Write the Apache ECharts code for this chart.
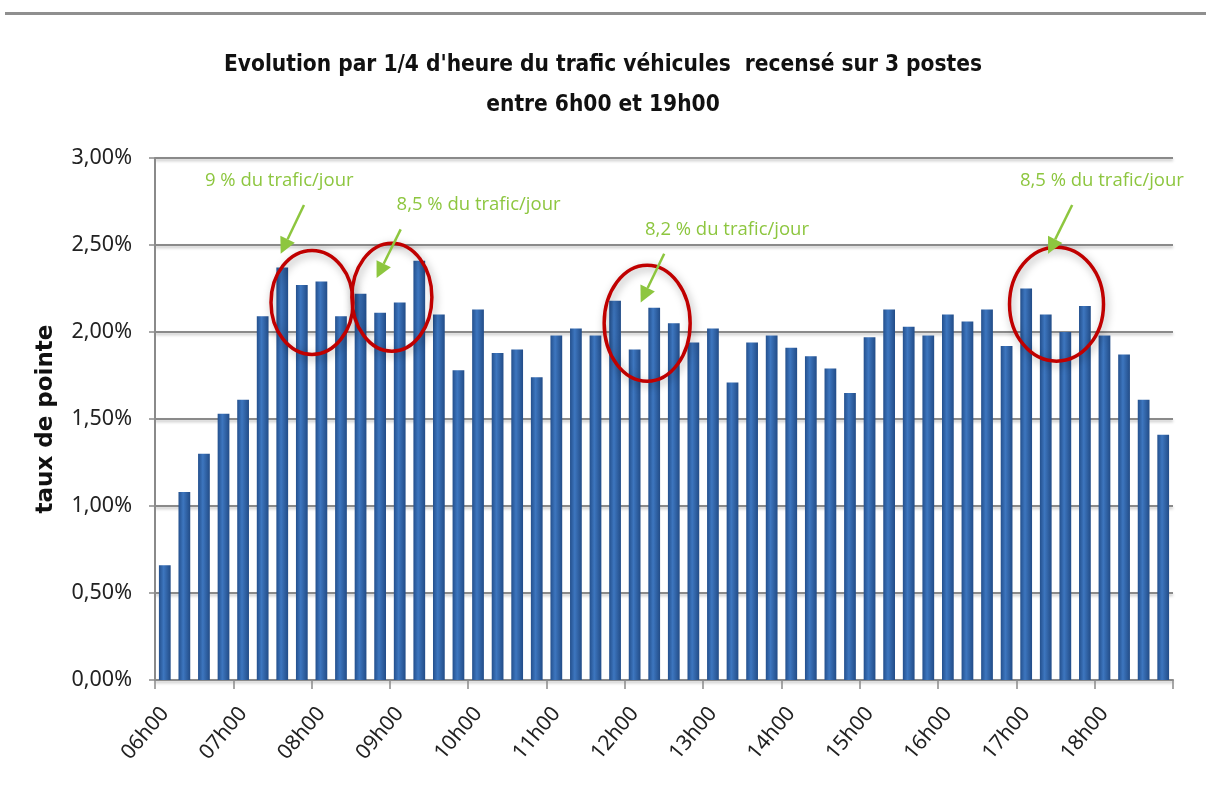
<!DOCTYPE html>
<html>
<head>
<meta charset="utf-8">
<script src="https://cdn.jsdelivr.net/npm/echarts@6/dist/echarts.min.js"></script>
<style>
  html, body { margin: 0; padding: 0; background: #fff; }
  #main { width: 1206px; height: 799px; }
</style>
</head>
<body>
<div id="main"></div>
<script>
// quarters from 06h00 to 18h45
const hours = ['06h00', '07h00', '08h00', '09h00', '10h00', '11h00', '12h00',
  '13h00', '14h00', '15h00', '16h00', '17h00', '18h00'];
const quarters = ['00', '15', '30', '45'];
const categories = [];
hours.forEach(h => quarters.forEach(q => categories.push(h.slice(0, 3) + q)));

// taux de pointe (%) per quarter hour
const values = [
  0.66, 1.08, 1.30, 1.53, 1.61, 2.09, 2.37, 2.27, 2.29, 2.09, 2.22, 2.11, 2.17,
  2.41, 2.10, 1.78, 2.13, 1.88, 1.90, 1.74, 1.98, 2.02, 1.98, 2.18, 1.90, 2.14,
  2.05, 1.94, 2.02, 1.71, 1.94, 1.98, 1.91, 1.86, 1.79, 1.65, 1.97, 2.13, 2.03,
  1.98, 2.10, 2.06, 2.13, 1.92, 2.25, 2.10, 2.00, 2.15, 1.98, 1.87, 1.61, 1.41
];

const yTicks = [0, 0.5, 1, 1.5, 2, 2.5, 3];

// annotations: [category index, value]
const noteTexts = ['9 % du trafic/jour', '8,5 % du trafic/jour', '8,2 % du trafic/jour', '8,5 % du trafic/jour'];
const noteAnchors = [[2.05, 2.87], [11.84, 2.73], [24.53, 2.59], [43.68, 2.87]];
const arrowFrom = [[7.11, 2.73], [12.05, 2.59], [25.51, 2.45], [46.35, 2.73]];
const arrowTo = [[5.92, 2.45], [10.82, 2.31], [24.31, 2.17], [45.12, 2.45]];
const circleCenters = [[7.52, 2.17], [11.60, 2.20], [24.64, 2.05], [45.55, 2.16]];
const circleRadii = [[41, 52], [40, 54], [43, 58], [47, 57]];

const green = '#8dc63f';
const chart = echarts.init(document.getElementById('main'));

const option = {
  backgroundColor: '#fff',
  animation: false,
  title: {
    text: "Evolution par 1/4 d'heure du trafic véhicules  recensé sur 3 postes\nentre 6h00 et 19h00",
    left: 'center',
    top: 40,
    textStyle: {
      fontFamily: '"Liberation Sans Narrow", "DejaVu Sans Condensed", sans-serif',
      fontSize: 22.5,
      fontWeight: 'bold',
      color: '#111',
      lineHeight: 40
    }
  },
  grid: { left: 155, right: 33, top: 158, bottom: 119 },
  xAxis: {
    type: 'category',
    data: categories,
    axisLine: { lineStyle: { color: '#8a8a8a', width: 2 } },
    axisTick: { show: true, length: 9, lineStyle: { color: '#8a8a8a', width: 1.5 } },
    axisLabel: {
      interval: 3,
      rotate: 50,
      margin: 30,
      fontSize: 21,
      fontFamily: '"Noto Sans", sans-serif',
      color: '#222'
    }
  },
  yAxis: {
    type: 'value',
    min: 0,
    max: 3,
    interval: 0.5,
    name: 'taux de pointe',
    nameLocation: 'middle',
    nameGap: 97,
    nameTextStyle: {
      fontFamily: '"DejaVu Sans", sans-serif',
      fontSize: 23,
      fontWeight: 'bold',
      color: '#111'
    },
    axisLine: { show: true, lineStyle: { color: '#8a8a8a', width: 2 } },
    axisTick: { show: true, length: 6, lineStyle: { color: '#8a8a8a', width: 1.5 } },
    axisLabel: {
      margin: 23,
      fontSize: 21.5,
      fontFamily: '"Noto Sans", sans-serif',
      color: '#222',
      formatter: v => yTicks.includes(v) ? v.toFixed(2).replace('.', ',') + '%' : ''
    },
    splitLine: {
      lineStyle: {
        color: '#8a8a8a', width: 2,
        shadowColor: 'rgba(0,0,0,0.25)', shadowBlur: 3, shadowOffsetY: 2
      }
    }
  },
  series: [{
    type: 'bar',
    data: values,
    barWidth: '60%',
    itemStyle: {
      color: new echarts.graphic.LinearGradient(0, 0, 1, 0, [
        { offset: 0, color: '#24508d' },
        { offset: 0.4, color: '#3d76bf' },
        { offset: 1, color: '#224c87' }
      ]),
      shadowColor: 'rgba(0,0,0,0.25)',
      shadowBlur: 3,
      shadowOffsetX: 2
    }
  }]
};
chart.setOption(option);

// place annotations from data coordinates
const x0 = chart.convertToPixel({ xAxisIndex: 0 }, 0);
const x1 = chart.convertToPixel({ xAxisIndex: 0 }, 1);
const step = x1 - x0;
const toPx = p => [x0 + p[0] * step, chart.convertToPixel({ yAxisIndex: 0 }, p[1])];

const graphics = [{
  type: 'rect',
  shape: { x: 5, y: 12, width: 1201, height: 3 },
  style: { fill: '#8f8f8f' }
}];

circleCenters.forEach((c, i) => {
  const [cx, cy] = toPx(c);
  graphics.push({
    type: 'ellipse',
    shape: { cx: cx, cy: cy, rx: circleRadii[i][0], ry: circleRadii[i][1] },
    style: {
      fill: 'none', stroke: '#c00000', lineWidth: 3.5,
      shadowColor: 'rgba(0,0,0,0.35)', shadowBlur: 8, shadowOffsetX: 2, shadowOffsetY: 3
    },
    z: 10
  });
});

arrowFrom.forEach((f, i) => {
  const a = toPx(f), b = toPx(arrowTo[i]);
  const dx = b[0] - a[0], dy = b[1] - a[1];
  const len = Math.sqrt(dx * dx + dy * dy);
  const ux = dx / len, uy = dy / len;
  const head = 16, half = 8;
  const bx = b[0] - ux * head, by = b[1] - uy * head;
  graphics.push({
    type: 'line',
    shape: { x1: a[0], y1: a[1], x2: bx, y2: by },
    style: { stroke: green, lineWidth: 2.5 },
    z: 11
  });
  graphics.push({
    type: 'polygon',
    shape: { points: [[b[0], b[1]], [bx - uy * half, by + ux * half], [bx + uy * half, by - ux * half]] },
    style: { fill: green },
    z: 11
  });
});

noteAnchors.forEach((p, i) => {
  const [x, y] = toPx(p);
  graphics.push({
    type: 'text',
    x: x,
    y: y,
    style: {
      text: noteTexts[i],
      fill: green,
      font: '18.5px "Open Sans", sans-serif',
      textVerticalAlign: 'middle'
    },
    z: 11
  });
});

chart.setOption({ graphic: graphics });
</script>
</body>
</html>
